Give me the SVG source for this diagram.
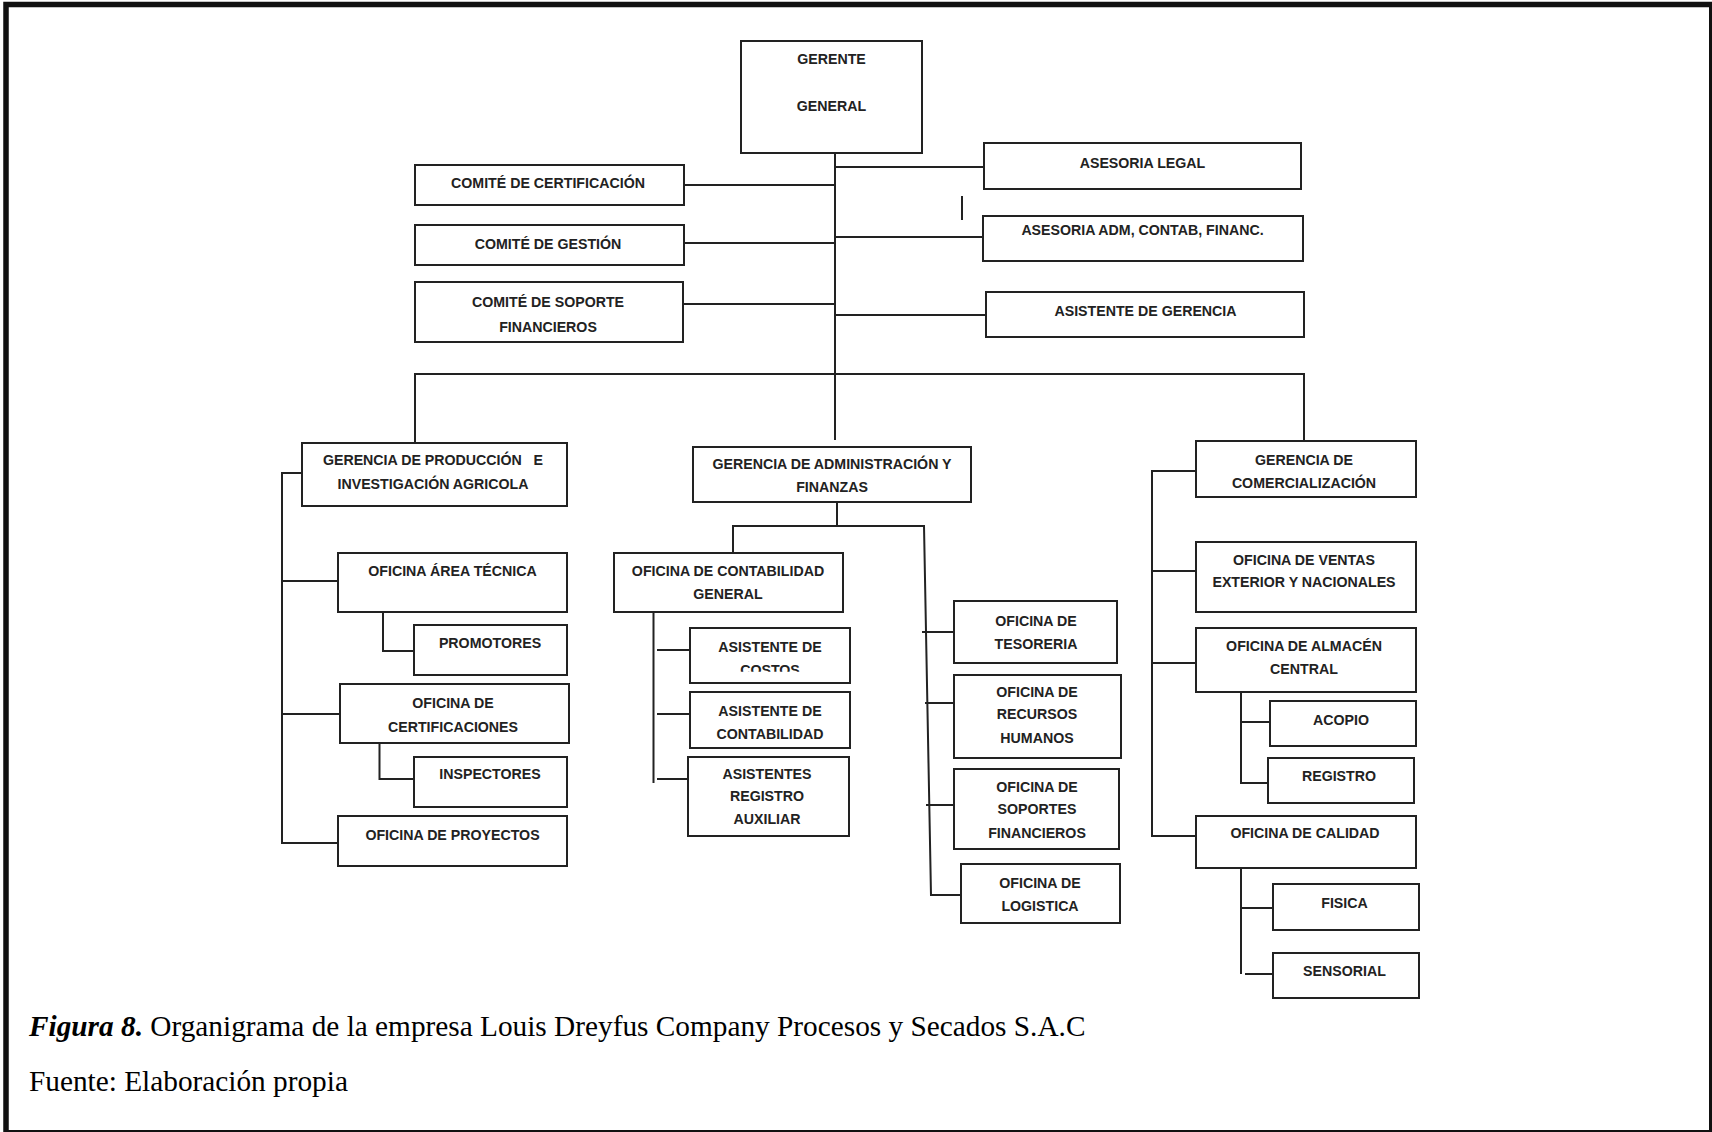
<svg xmlns="http://www.w3.org/2000/svg" width="1712" height="1132" viewBox="0 0 1712 1132">
  <style>
    .box { fill: #fff; stroke: #222; stroke-width: 2; }
    .ln { fill: none; stroke: #222; stroke-width: 2; }
    .t { font-family: "Liberation Sans", Arial, sans-serif; font-weight: bold; font-size: 14.2px; fill: #222; text-anchor: middle; }
    .cap { font-family: "Liberation Serif", "Times New Roman", serif; font-size: 29.3px; fill: #000; }
  </style>
  <defs>
    <clipPath id="clipCostos">
      <rect x="690" y="655" width="160" height="16.7"/>
    </clipPath>
  </defs>

  <rect width="1712" height="1132" fill="#fff"/>
  <!-- page frame -->
  <rect x="6" y="4.5" width="1705.75" height="1128.25" fill="none" stroke="#111" stroke-width="5.5"/>

  <!-- connectors -->
  <g id="connectors" class="ln">
    <path d="M835 153 V440"/>
    <path d="M835 167 H984 M835 237 H983 M835 315 H986"/>
    <path d="M684 185 H834 M683 243 H835 M683 304 H835"/>
    <path d="M962 196 V220"/>
    <path d="M415 443 V374 H1304 V441"/>
    <!-- administración y finanzas -->
    <path d="M837 502 V526 M733 553 V526 H924 L931 895 H961"/>
    <path d="M922 632 H954 M925 703 H954 M926 805 H954"/>
    <path d="M653.5 612 V783 M657 650 H690 M657 714 H690 M657 779 H688"/>
    <!-- producción -->
    <path d="M302 473 H282 V843 H338 M282 581 H338 M282 714 H340"/>
    <path d="M383 612 V651 H414 M379.5 742 V779 H414"/>
    <!-- comercialización -->
    <path d="M1196 471 H1152 V836 H1196 M1152 571 H1196 M1152 663 H1196"/>
    <path d="M1241 688 V783 H1268 M1240 722 H1270"/>
    <path d="M1241 868 V974 M1241 908 H1273 M1245 974 H1273"/>
  </g>

  <g id="gerente-general">
    <rect class="box" x="741" y="41" width="181" height="112"/>
    <text class="t" x="831.5" y="64">GERENTE</text>
    <text class="t" x="831.5" y="111">GENERAL</text>
  </g>
  <g id="comite-certificacion">
    <rect class="box" x="415" y="165" width="269" height="40"/>
    <text class="t" x="548" y="188">COMITÉ DE CERTIFICACIÓN</text>
  </g>
  <g id="comite-gestion">
    <rect class="box" x="415" y="225" width="269" height="40"/>
    <text class="t" x="548" y="249">COMITÉ DE GESTIÓN</text>
  </g>
  <g id="comite-soporte">
    <rect class="box" x="415" y="282" width="268" height="60"/>
    <text class="t" x="548" y="307">COMITÉ DE SOPORTE</text>
    <text class="t" x="548" y="332">FINANCIEROS</text>
  </g>
  <g id="asesoria-legal">
    <rect class="box" x="984" y="143" width="317" height="46"/>
    <text class="t" x="1142.5" y="168">ASESORIA LEGAL</text>
  </g>
  <g id="asesoria-adm">
    <rect class="box" x="983" y="216" width="320" height="45"/>
    <text class="t" x="1142.5" y="235">ASESORIA ADM, CONTAB, FINANC.</text>
  </g>
  <g id="asistente-gerencia">
    <rect class="box" x="986" y="292" width="318" height="45"/>
    <text class="t" x="1145.5" y="316">ASISTENTE DE GERENCIA</text>
  </g>

  <!-- producción e investigación -->
  <g id="gerencia-produccion">
    <rect class="box" x="302" y="443" width="265" height="63"/>
    <text class="t" x="433" y="465" xml:space="preserve">GERENCIA DE PRODUCCIÓN   E</text>
    <text class="t" x="433" y="489">INVESTIGACIÓN AGRICOLA</text>
  </g>
  <g id="oficina-area-tecnica">
    <rect class="box" x="338" y="553" width="229" height="59"/>
    <text class="t" x="452.5" y="576">OFICINA ÁREA TÉCNICA</text>
  </g>
  <g id="promotores">
    <rect class="box" x="414" y="625" width="153" height="50"/>
    <text class="t" x="490" y="648">PROMOTORES</text>
  </g>
  <g id="oficina-certificaciones">
    <rect class="box" x="340" y="684" width="229" height="59"/>
    <text class="t" x="453" y="708">OFICINA DE</text>
    <text class="t" x="453" y="732">CERTIFICACIONES</text>
  </g>
  <g id="inspectores">
    <rect class="box" x="414" y="757" width="153" height="50"/>
    <text class="t" x="490" y="779">INSPECTORES</text>
  </g>
  <g id="oficina-proyectos">
    <rect class="box" x="338" y="816" width="229" height="50"/>
    <text class="t" x="452.5" y="840">OFICINA DE PROYECTOS</text>
  </g>

  <!-- administración y finanzas -->
  <g id="gerencia-administracion">
    <rect class="box" x="693" y="447" width="278" height="55"/>
    <text class="t" x="832" y="469">GERENCIA DE ADMINISTRACIÓN Y</text>
    <text class="t" x="832" y="492">FINANZAS</text>
  </g>
  <g id="oficina-contabilidad">
    <rect class="box" x="614" y="553" width="229" height="59"/>
    <text class="t" x="728" y="576">OFICINA DE CONTABILIDAD</text>
    <text class="t" x="728" y="599">GENERAL</text>
  </g>
  <g id="asistente-costos">
    <rect class="box" x="690" y="628" width="160" height="55"/>
    <text class="t" x="770" y="651.7">ASISTENTE DE</text>
    <text class="t" x="770" y="675" clip-path="url(#clipCostos)">COSTOS</text>
  </g>
  <g id="asistente-contabilidad">
    <rect class="box" x="690" y="692" width="160" height="56"/>
    <text class="t" x="770" y="716">ASISTENTE DE</text>
    <text class="t" x="770" y="739">CONTABILIDAD</text>
  </g>
  <g id="asistentes-registro">
    <rect class="box" x="688" y="757" width="161" height="79"/>
    <text class="t" x="767" y="779">ASISTENTES</text>
    <text class="t" x="767" y="801">REGISTRO</text>
    <text class="t" x="767" y="824">AUXILIAR</text>
  </g>
  <g id="oficina-tesoreria">
    <rect class="box" x="954" y="601" width="163" height="62"/>
    <text class="t" x="1036" y="626">OFICINA DE</text>
    <text class="t" x="1036" y="649">TESORERIA</text>
  </g>
  <g id="oficina-rrhh">
    <rect class="box" x="954" y="675" width="167" height="83"/>
    <text class="t" x="1037" y="697">OFICINA DE</text>
    <text class="t" x="1037" y="719">RECURSOS</text>
    <text class="t" x="1037" y="743">HUMANOS</text>
  </g>
  <g id="oficina-soportes">
    <rect class="box" x="954" y="769" width="165" height="80"/>
    <text class="t" x="1037" y="792">OFICINA DE</text>
    <text class="t" x="1037" y="814">SOPORTES</text>
    <text class="t" x="1037" y="838">FINANCIEROS</text>
  </g>
  <g id="oficina-logistica">
    <rect class="box" x="961" y="864" width="159" height="59"/>
    <text class="t" x="1040" y="888">OFICINA DE</text>
    <text class="t" x="1040" y="911">LOGISTICA</text>
  </g>

  <!-- comercialización -->
  <g id="gerencia-comercializacion">
    <rect class="box" x="1196" y="441" width="220" height="56"/>
    <text class="t" x="1304" y="465">GERENCIA DE</text>
    <text class="t" x="1304" y="488">COMERCIALIZACIÓN</text>
  </g>
  <g id="oficina-ventas">
    <rect class="box" x="1196" y="542" width="220" height="70"/>
    <text class="t" x="1304" y="565">OFICINA DE VENTAS</text>
    <text class="t" x="1304" y="587">EXTERIOR Y NACIONALES</text>
  </g>
  <g id="oficina-almacen">
    <rect class="box" x="1196" y="628" width="220" height="64"/>
    <text class="t" x="1304" y="651">OFICINA DE ALMACÉN</text>
    <text class="t" x="1304" y="674">CENTRAL</text>
  </g>
  <g id="acopio">
    <rect class="box" x="1270" y="701" width="146" height="45"/>
    <text class="t" x="1341" y="725">ACOPIO</text>
  </g>
  <g id="registro">
    <rect class="box" x="1268" y="758" width="146" height="45"/>
    <text class="t" x="1339" y="781">REGISTRO</text>
  </g>
  <g id="oficina-calidad">
    <rect class="box" x="1196" y="816" width="220" height="52"/>
    <text class="t" x="1305" y="838">OFICINA DE CALIDAD</text>
  </g>
  <g id="fisica">
    <rect class="box" x="1273" y="884" width="146" height="46"/>
    <text class="t" x="1344.5" y="908">FISICA</text>
  </g>
  <g id="sensorial">
    <rect class="box" x="1273" y="953" width="146" height="45"/>
    <text class="t" x="1344.5" y="976">SENSORIAL</text>
  </g>

  <!-- caption -->
  <text class="cap" x="29" y="1036"><tspan font-weight="bold" font-style="italic">Figura 8.</tspan> Organigrama de la empresa Louis Dreyfus Company Procesos y Secados S.A.C</text>
  <text class="cap" x="29" y="1091">Fuente: Elaboración propia</text>
</svg>
